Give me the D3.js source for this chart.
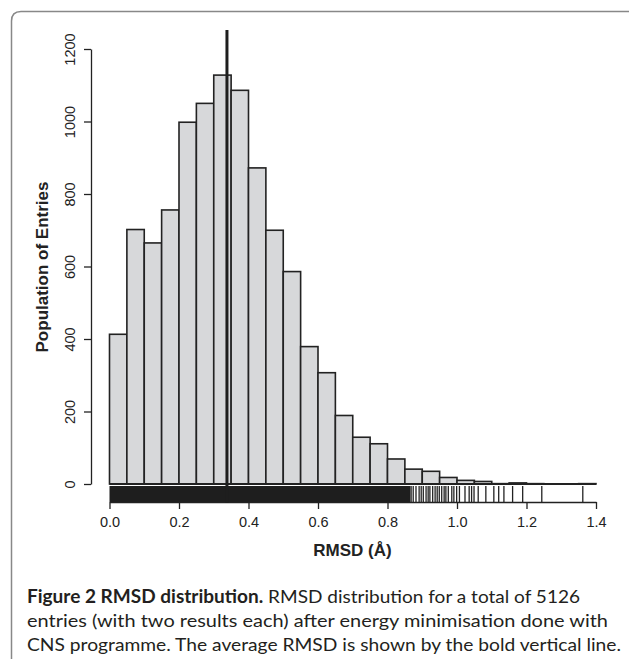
<!DOCTYPE html>
<html>
<head>
<meta charset="utf-8">
<script src="https://cdn.jsdelivr.net/npm/d3@7"></script>
<style>
  body { margin: 0; background: #fff; }
  .axis text { font-family: "Liberation Sans", Arial, sans-serif; font-size: 14.5px; fill: #222; }
  .axis path, .axis line { stroke: #222; stroke-width: 1.3; }
</style>
</head>
<body>
<div id="chart"></div>
<script>
// histogram bins (width 0.05) and counts
var binStarts = [0.00, 0.05, 0.10, 0.15, 0.20, 0.25, 0.30, 0.35, 0.40, 0.45,
                 0.50, 0.55, 0.60, 0.65, 0.70, 0.75, 0.80, 0.85, 0.90, 0.95,
                 1.00, 1.05, 1.10, 1.15, 1.20, 1.25, 1.30, 1.35];
var counts = [413, 702, 665, 756, 998, 1050, 1128, 1086, 872, 700,
              586, 379, 307, 189, 129, 111, 69, 41, 35, 18,
              10, 7, 1, 3, 1, 0, 0, 1];
var binWidth = 0.05;

// rug: solid dense part + single ticks
var rugBand = [0.0, 0.866];
var rugTicks = [0.868, 0.874, 0.882, 0.891, 0.897, 0.903, 0.911, 0.917, 0.922, 0.930,
                0.937, 0.943, 0.949, 0.956, 0.963, 0.968, 0.975, 0.985, 0.991, 0.999,
                1.007, 1.023, 1.035, 1.042, 1.049, 1.061, 1.083, 1.106, 1.120, 1.135,
                1.160, 1.189, 1.244, 1.362];
var meanRMSD = 0.338;

var xTicks = [0.0, 0.2, 0.4, 0.6, 0.8, 1.0, 1.2, 1.4];
var yTicks = [0, 200, 400, 600, 800, 1000, 1200];

var captionLines = [
  {bold: "Figure 2 RMSD distribution.", text: " RMSD distribution for a total of 5126", len: 553},
  {bold: "", text: "entries (with two results each) after energy minimisation done with", len: 581},
  {bold: "", text: "CNS programme. The average RMSD is shown by the bold vertical line.", len: 594}
];

var svgWidth = 629;
var svgHeight = 659;

var svg = d3.select("#chart")
  .append("svg")
  .attr("width", svgWidth)
  .attr("height", svgHeight);

// figure frame
svg.append("path")
  .attr("d", "M11.5,659 L11.5,21 Q11.5,11.5 21,11.5 L629,11.5")
  .attr("fill", "none")
  .attr("stroke", "#888")
  .attr("stroke-width", 1.5);

var x = d3.scaleLinear().domain([0, 1.4]).range([109.5, 596]);
var y = d3.scaleLinear().domain([0, 1200]).range([484, 49]);

// bars
svg.selectAll("rect.bar")
  .data(binStarts)
  .enter()
  .append("rect")
  .attr("class", "bar")
  .attr("x", d => x(d))
  .attr("width", d => x(d + binWidth) - x(d))
  .attr("y", (d, i) => y(counts[i]))
  .attr("height", (d, i) => y(0) - y(counts[i]))
  .attr("fill", "#d7d8da")
  .attr("stroke", "#222")
  .attr("stroke-width", 1.6);

// bar bottoms (empty bins show as a line too)
svg.append("line")
  .attr("x1", x(0))
  .attr("x2", x(1.4))
  .attr("y1", y(0))
  .attr("y2", y(0))
  .attr("stroke", "#222")
  .attr("stroke-width", 1.8);

// rug
var rugTop = 486, rugBottom = 502;
svg.append("rect")
  .attr("x", x(rugBand[0]))
  .attr("width", x(rugBand[1]) - x(rugBand[0]))
  .attr("y", rugTop)
  .attr("height", rugBottom - rugTop)
  .attr("fill", "#1e1e1e");

svg.selectAll("line.rug")
  .data(rugTicks)
  .enter()
  .append("line")
  .attr("class", "rug")
  .attr("x1", d => x(d))
  .attr("x2", d => x(d))
  .attr("y1", rugTop)
  .attr("y2", rugBottom)
  .attr("stroke", "#222")
  .attr("stroke-width", 1.3);

// axes
var xAxis = svg.append("g")
  .attr("class", "axis")
  .attr("transform", "translate(0, 502)")
  .call(d3.axisBottom(x).tickValues(xTicks).tickFormat(d3.format(".1f")).tickSize(7).tickSizeOuter(0));
xAxis.selectAll("text").attr("dy", "0.71em").attr("y", 15);

var yAxis = svg.append("g")
  .attr("class", "axis")
  .attr("transform", "translate(91, 0)")
  .call(d3.axisLeft(y).tickValues(yTicks).tickFormat(d3.format("d")).tickSize(7).tickSizeOuter(0));
yAxis.selectAll("text")
  .attr("x", null)
  .attr("dy", null)
  .attr("text-anchor", "middle")
  .attr("transform", "translate(-16, 0) rotate(-90)");

// mean line
svg.append("line")
  .attr("x1", x(meanRMSD))
  .attr("x2", x(meanRMSD))
  .attr("y1", 30)
  .attr("y2", 503)
  .attr("stroke", "#1e1e1e")
  .attr("stroke-width", 3);

// axis titles
svg.append("text")
  .attr("transform", "translate(48, 267) rotate(-90)")
  .attr("text-anchor", "middle")
  .style("font-family", "'Liberation Sans', Arial, sans-serif")
  .style("font-size", "17px")
  .style("font-weight", "bold")
  .style("fill", "#222")
  .text("Population of Entries");

svg.append("text")
  .attr("x", 352.5)
  .attr("y", 556)
  .attr("text-anchor", "middle")
  .style("font-family", "'Liberation Sans', Arial, sans-serif")
  .style("font-size", "17px")
  .style("font-weight", "bold")
  .style("fill", "#222")
  .text("RMSD (Å)");

// caption
var cap = svg.selectAll("text.caption")
  .data(captionLines)
  .enter()
  .append("text")
  .attr("class", "caption")
  .attr("x", 27)
  .attr("y", (d, i) => 603 + i * 24)
  .attr("textLength", d => d.len)
  .attr("lengthAdjust", "spacingAndGlyphs")
  .style("font-family", "Lato, sans-serif")
  .style("font-size", "18px")
  .style("fill", "#231f20");

cap.append("tspan")
  .style("font-weight", "bold")
  .text(d => d.bold);
cap.append("tspan")
  .text(d => d.text);
</script>
</body>
</html>
